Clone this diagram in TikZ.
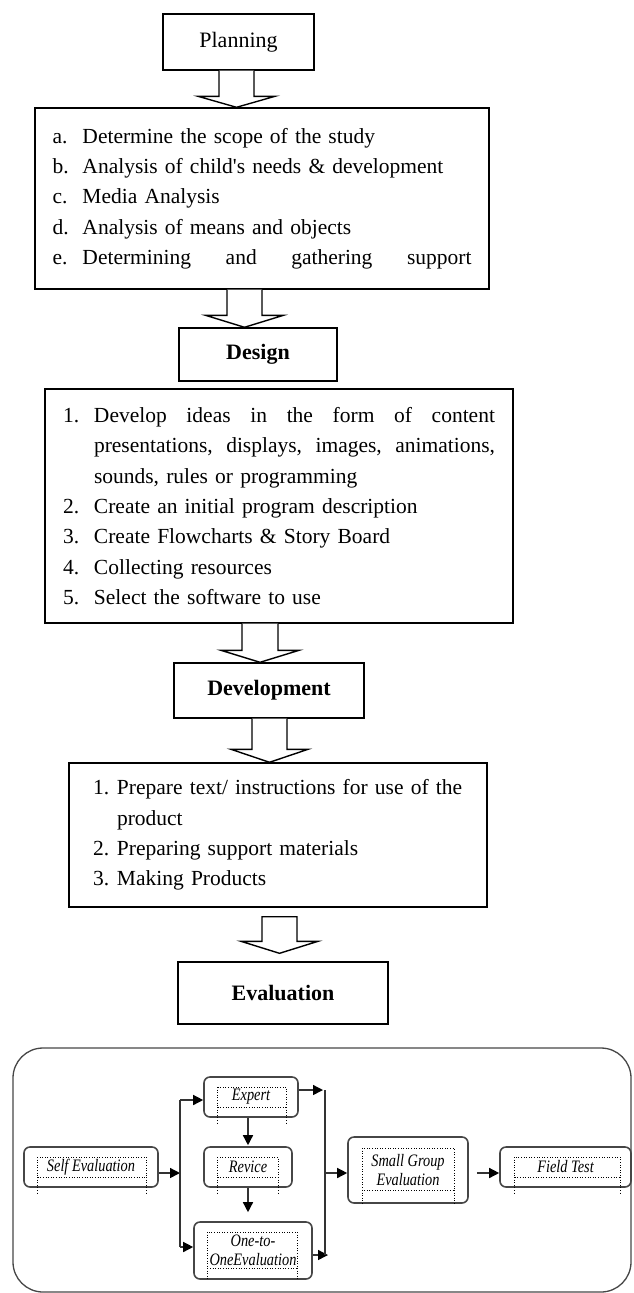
\documentclass[tikz,border=0pt]{standalone}
\usepackage{fontspec}
\setmainfont{Liberation Serif}
\newfontfamily\condfont[FakeStretch=0.82]{Liberation Serif}
\usetikzlibrary{arrows.meta,calc}

% hollow block arrow: #1 x centre, #2 top anchor, #3 tip anchor, #4 shaft half width,
% #5 wing half width, #6 head height, #7 top offset (down), #8 closing
\newcommand\hollowarrow[8]{%
  \draw[hollowarr] let \p1=(#2), \p2=(#3) in
    (#1pt-#4pt,\y1-#7pt) -- (#1pt-#4pt,\y2+#6pt) -- (#1pt-#5pt,\y2+#6pt) -- (#1pt,\y2)
    -- (#1pt+#5pt,\y2+#6pt) -- (#1pt+#4pt,\y2+#6pt) -- (#1pt+#4pt,\y1-#7pt) #8;}
% dotted text frame: #1 left, #2 right, #3 top, #4 frame bottom, #5 end of side lines
\newcommand\dframe[5]{%
  \draw[dframe] (#1,#3) rectangle (#2,#4) (#1,#4) -- (#1,#5) (#2,#4) -- (#2,#5);}

\begin{document}
\begin{tikzpicture}[x=1pt,y=-1pt,
  headbox/.style={draw=black,line width=1.4pt,inner sep=0pt,font=\fontsize{22}{26}\selectfont},
  boldhead/.style={headbox,font=\bfseries\fontsize{22}{26}\selectfont},
  listbox/.style={draw=black,line width=1.4pt,inner ysep=0pt,align=left,font=\fontsize{21.5}{30.3}\selectfont},
  hollowarr/.style={draw=black,line width=1.4pt,fill=white,line join=miter},
  evalbox/.style={draw=gray!55!black,line width=1.6pt,rounded corners=6pt,inner sep=0pt,align=center,
    font=\condfont\itshape\fontsize{17.5}{18.5}\selectfont},
  conn/.style={draw=gray!40!black,line width=1.4pt},
  connarr/.style={conn,-{Triangle[length=10pt,width=10pt,color=black]}},
  dframe/.style={draw=black,line width=0.6pt,dotted},
  outerbox/.style={draw=gray!55!black,line width=1.3pt,rounded corners=30pt}
]
\useasboundingbox (0,0) rectangle (633,1293);

% ---------- upper flow ----------
\node[headbox,minimum width=151pt,minimum height=56pt] (plan) at (238.5,42) {Planning};

\node[listbox,text width=419pt,inner xsep=17.5pt,minimum height=181pt] (l1) at (262,198.5) {%
\makebox[30pt][l]{a.}Determine the scope of the study\\
\makebox[30pt][l]{b.}Analysis of child\textquotesingle s needs \& development\\
\makebox[30pt][l]{c.}Media Analysis\\
\makebox[30pt][l]{d.}Analysis of means and objects\\
\makebox[30pt][l]{e.}\makebox[389pt][l]{Determining\hfill and\hfill gathering\hfill support}};

\node[boldhead,minimum width=158pt,minimum height=53pt] (des) at (258,354.5) {Design};

\node[listbox,text width=432pt,inner xsep=18pt,minimum height=234pt] (l2) at (279,506) {%
\makebox[31pt][l]{1.}\makebox[401pt][l]{Develop\hfill ideas\hfill in\hfill the\hfill form\hfill of\hfill content}\\
\hspace*{31pt}\makebox[401pt][l]{presentations,\hfill displays,\hfill images,\hfill animations,}\\
\hspace*{31pt}sounds, rules or programming\\
\makebox[31pt][l]{2.}Create an initial program description\\
\makebox[31pt][l]{3.}Create Flowcharts \& Story Board\\
\makebox[31pt][l]{4.}Collecting resources\\
\makebox[31pt][l]{5.}Select the software to use};

\node[boldhead,minimum width=190pt,minimum height=55pt] (dev) at (269,690.5) {Development};

\node[listbox,text width=370pt,inner xsep=24pt,minimum height=144pt] (l3) at (278,835) {%
\makebox[24pt][l]{1.}\mbox{Prepare text/ instructions for use of the}\\
\hspace*{24pt}product\\
\makebox[24pt][l]{2.}Preparing support materials\\
\makebox[24pt][l]{3.}Making Products};

\node[boldhead,minimum width=210pt,minimum height=62pt] (eval) at (283,993) {Evaluation};

\hollowarrow{236.5}{plan.south}{l1.north}{17.5}{38.5}{11}{0}{}
\hollowarrow{244.5}{l1.south}{des.north}{17.5}{39}{12}{0}{}
\hollowarrow{260}{l2.south}{dev.north}{18}{39}{12}{0}{}
\hollowarrow{269.5}{dev.south}{l3.north}{17.5}{38.5}{13}{0}{}
\hollowarrow{279.5}{l3.south}{$(eval.north)+(0,-8)$}{17.5}{38.5}{12}{9}{-- cycle}

% ---------- evaluation scheme ----------
\draw[outerbox] (13,1048) rectangle (631,1292);

\node[evalbox,minimum width=134pt,minimum height=40pt] (self) at (91,1167) {Self Evaluation};
\node[evalbox,minimum width=94pt,minimum height=40pt] (expert) at (251,1097) {Expert};
\node[evalbox,minimum width=88pt,minimum height=40pt] (revice) at (248,1167) {Revice};
\node[evalbox,minimum width=118pt,minimum height=57pt] (one) at (253,1250.5) {One-to-\\OneEvaluation};
\node[evalbox,minimum width=120pt,minimum height=66pt] (small) at (408,1170) {Small Group\\Evaluation};
\node[evalbox,minimum width=131pt,minimum height=40pt] (field) at (565.5,1167) {Field Test};

\dframe{37}{146}{1157}{1177}{1195}
\dframe{217}{286}{1087}{1107}{1125}
\dframe{217}{278}{1157}{1177}{1195}
\dframe{207}{297}{1232}{1268}{1279}
\dframe{362}{454}{1148}{1190}{1205}
\dframe{514}{620}{1157}{1177}{1195}

\coordinate (jt) at (180,1100);
\coordinate (jm) at (180,1173);
\coordinate (jb) at (180,1247);
\coordinate (kt) at (325,1090);
\coordinate (km) at (325,1173);
\coordinate (kb) at (325,1255);

\draw[connarr] (self.east |- jm) -- (jm);
\draw[conn] (jt) -- (jb);
\draw[connarr] (jt) -- (expert.west |- jt);
\draw[connarr] (jb) -- (one.west |- jb);
\draw[connarr] (revice.north |- expert.south) -- ([yshift=1pt]revice.north);
\draw[connarr] (revice.south) -- ([yshift=9pt]revice.south |- one.north);
\draw[connarr] (expert.east |- kt) -- ([xshift=-2pt]kt);
\draw[connarr] (one.east |- kb) -- ([xshift=3pt]kb);
\draw[conn] (kt) -- (kb);
\draw[connarr] (km) -- (small.west |- km);
\draw[connarr] ([xshift=8pt]small.east |- km) -- (field.west |- km);
\end{tikzpicture}
\end{document}
